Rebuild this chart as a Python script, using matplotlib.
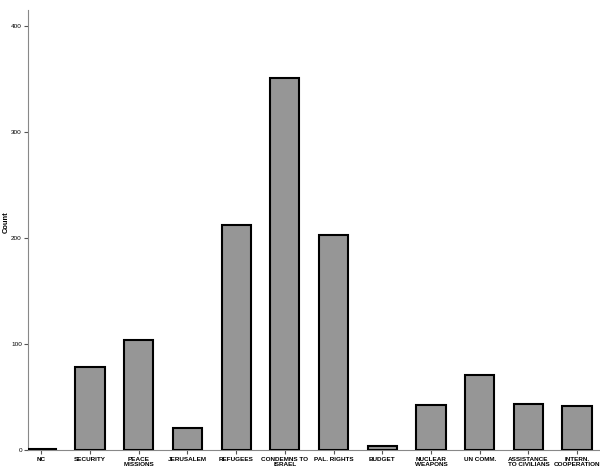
import matplotlib
matplotlib.use('Agg')
import matplotlib.pyplot as plt
import numpy as np

# categories and counts
categories = ['NC', 'SECURITY', 'PEACE\nMISSIONS', 'JERUSALEM', 'REFUGEES',
              'CONDEMNS TO\nISRAEL', 'PAL. RIGHTS', 'BUDGET', 'NUCLEAR\nWEAPONS',
              'UN COMM.', 'ASSISTANCE\nTO CIVILIANS', 'INTERN.\nCOOPERATION']
counts = [1, 78, 104, 21, 212, 351, 203, 4, 42, 71, 43, 41]
yticks = [0, 100, 200, 300, 400]

font = ['Liberation Sans', 'DejaVu Sans']


def main():
    fig = plt.figure(figsize=(6, 4.7), dpi=100)
    ax = fig.add_axes([0.047, 0.043, 0.953, 0.936])

    x = np.arange(len(categories))
    ax.bar(x, counts, width=0.6, color='#969696', edgecolor='black',
           linewidth=1.5, zorder=3)

    ax.set_xlim(-0.27, 11.47)
    ax.set_ylim(0, 415)
    ax.set_xticks(x)
    ax.set_xticklabels(categories, fontsize=4.6, fontweight='bold',
                       linespacing=1.0, family=font)
    ax.set_yticks(yticks)
    ax.set_yticklabels([str(v) for v in yticks], fontsize=4.6, family=font)
    ax.tick_params(axis='both', length=3, width=0.8, color='#555555', pad=1.5)
    ax.tick_params(axis='x', pad=2.2)

    for side in ['top', 'right']:
        ax.spines[side].set_visible(False)
    for side in ['left', 'bottom']:
        ax.spines[side].set_color('#888888')
        ax.spines[side].set_linewidth(0.8)

    fig.text(0.01, 0.528, 'Count', rotation=90, fontsize=5.4,
             fontweight='bold', ha='center', va='center', family=font)

    fig.savefig('out.png', dpi=100)


main()
